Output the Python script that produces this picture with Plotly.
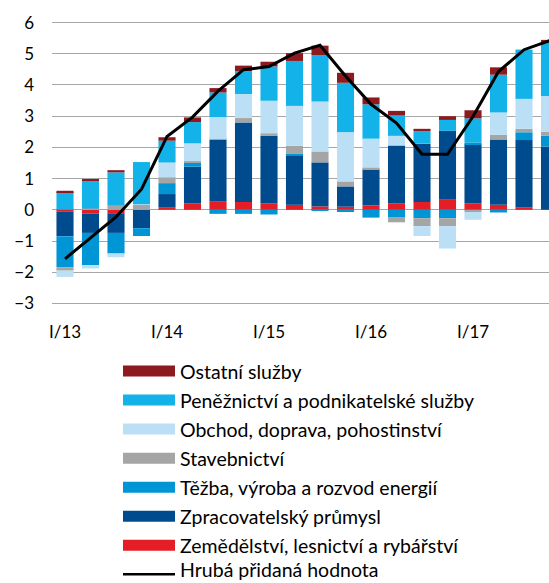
import plotly.graph_objects as go

# ---- data ----
categories = [f"{q}/{y}" for y in ["13", "14", "15", "16", "17"] for q in ["I", "II", "III", "IV"]]
tick_labels = ["I/13", "I/14", "I/15", "I/16", "I/17"]

zemedelstvi = [-0.05, -0.12, -0.11, 0.00, 0.085, 0.21, 0.27, 0.25, 0.21, 0.16,
               0.11, 0.10, 0.14, 0.21, 0.25, 0.32, 0.21, 0.16, 0.075, 0.00]
zpracovatelsky = [-0.80, -0.62, -0.63, -0.59, 0.42, 1.17, 1.97, 2.55, 2.16, 1.59,
                  1.41, 0.65, 1.16, 1.85, 1.87, 2.21, 1.89, 2.09, 2.16, 2.03]
tezba = [-0.99, -1.03, -0.66, -0.25, 0.35, 0.13, -0.13, -0.13, -0.15, 0.04,
         -0.03, -0.07, -0.25, -0.25, -0.27, -0.27, 0.06, -0.085, 0.25, 0.35]
stavebnictvi = [-0.11, 0.04, 0.13, 0.16, 0.19, 0.05, 0.03, 0.14, 0.085, 0.26,
                0.35, 0.16, 0.06, -0.15, -0.25, -0.25, -0.07, 0.15, 0.11, 0.12]
obchod = [-0.20, -0.11, -0.12, 0.02, 0.47, 0.57, 0.70, 0.77, 1.04, 1.28,
          1.60, 1.58, 0.92, 0.31, -0.32, -0.72, -0.25, 0.72, 0.96, 1.15]
penieznictvi = [0.57, 0.90, 1.07, 1.35, 0.70, 0.68, 0.79, 0.73, 1.10, 1.44,
                1.49, 1.58, 1.10, 0.65, 0.40, 0.35, 0.77, 1.21, 1.58, 1.72]
ostatni = [0.04, 0.04, 0.07, 0.00, 0.11, 0.15, 0.14, 0.18, 0.15, 0.25,
           0.30, 0.32, 0.22, 0.15, 0.075, 0.12, 0.26, 0.235, 0.00, 0.075]
hpd = [-1.57, -0.90, -0.23, 0.66, 2.35, 2.97, 3.80, 4.49, 4.59, 5.02,
       5.27, 4.29, 3.38, 2.78, 1.78, 1.78, 2.99, 4.43, 5.13, 5.42]

series = [
    ("Zemědělství, lesnictví a rybářství", zemedelstvi, "#E31E26"),
    ("Zpracovatelský průmysl", zpracovatelsky, "#004B8D"),
    ("Těžba, výroba a rozvod energií", tezba, "#0096D6"),
    ("Stavebnictví", stavebnictvi, "#A5A5A5"),
    ("Obchod, doprava, pohostinství", obchod, "#BBE0F6"),
    ("Peněžnictví a podnikatelské služby", penieznictvi, "#13B2E8"),
    ("Ostatní služby", ostatni, "#8C1A1E"),
]
line_name = "Hrubá přidaná hodnota"

FONT = "Lato"
W, H = 549, 583
ML, MR, MT, MB = 52, 0, 21, 278
PW, PH = W - ML - MR, H - MT - MB

fig = go.Figure()
for name, vals, col in series:
    fig.add_trace(go.Bar(x=categories, y=vals, name=name, marker=dict(color=col, line=dict(width=0)),
                         showlegend=False))
fig.add_trace(go.Scatter(x=categories, y=hpd, name=line_name, mode="lines",
                         line=dict(color="black", width=3), showlegend=False, cliponaxis=False))

def px_x(px):
    return (px - ML) / PW

def px_y(py):
    return (H - MB - py) / PH

shapes = []
annotations = []
legend_items = [(n, c, "bar") for n, _, c in reversed(series)] + [(line_name, "black", "line")]
n_items = len(legend_items)
for i, (name, col, kind) in enumerate(legend_items):
    cy = 371 + 29.05 * i
    if kind == "bar":
        shapes.append(dict(type="rect", xref="paper", yref="paper",
                           x0=px_x(123), x1=px_x(175), y0=px_y(cy - 5.5), y1=px_y(cy + 5.5),
                           fillcolor=col, line=dict(width=0)))
    else:
        shapes.append(dict(type="line", xref="paper", yref="paper",
                           x0=px_x(123), x1=px_x(175), y0=px_y(cy), y1=px_y(cy),
                           line=dict(color=col, width=2.5)))
    if i == n_items - 1:
        ty, anchor = px_y(H - 0.5), "bottom"
    else:
        ty, anchor = px_y(cy), "middle"
    annotations.append(dict(text=name, xref="paper", yref="paper", x=px_x(178), y=ty,
                            xanchor="left", yanchor=anchor, showarrow=False,
                            font=dict(family=FONT, size=19.5, color="#000000")))

fig.update_layout(
    width=W, height=H,
    margin=dict(l=ML, r=MR, t=MT, b=MB),
    paper_bgcolor="white", plot_bgcolor="white",
    barmode="relative", bargap=0.33,
    shapes=shapes, annotations=annotations,
    font=dict(family=FONT, size=16, color="#000000"),
    xaxis=dict(type="category", range=[-0.51, 18.98], showgrid=False, showline=False,
               zeroline=False, ticks="", tickmode="array", tickvals=tick_labels,
               ticktext=tick_labels, tickfont=dict(family=FONT, size=17),
               ticklabelstandoff=15),
    yaxis=dict(range=[-3.05, 6.05], dtick=1, tick0=0, showgrid=True, gridcolor="#A6A6A6",
               gridwidth=1.3, zeroline=True, zerolinecolor="#A6A6A6", zerolinewidth=1.3,
               showline=False, ticks="", tickfont=dict(family=FONT, size=17),
               ticklabelstandoff=17),
)

fig.write_html("out.html", config={"displayModeBar": False},
               post_script="document.body.style.margin='0';")
